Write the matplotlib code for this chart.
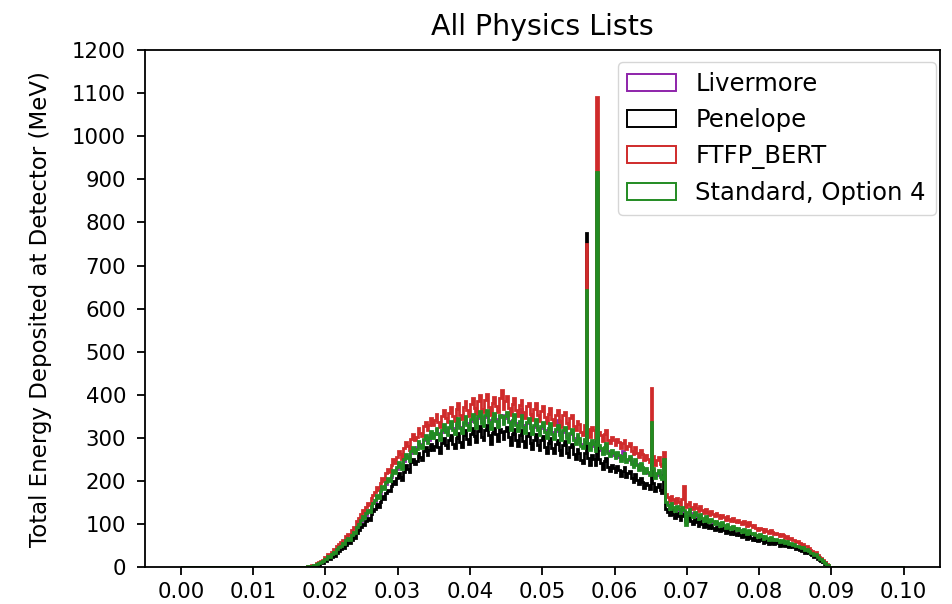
import numpy as np
import matplotlib
matplotlib.use("Agg")
import matplotlib.pyplot as plt

# histogram bins: 0.00025 wide, values listed from 0.017 to 0.090 (zero elsewhere)
bin_width = 0.00025
first_edge = 0.017

livermore = [
    0, 1, 1, 2, 3, 4, 5, 6, 9, 11,
    15, 18, 20, 24, 26, 29, 34, 36, 40, 46,
    52, 54, 57, 60, 66, 67, 72, 80, 82, 90,
    104, 108, 114, 118, 122, 130, 132, 138, 148, 152,
    162, 166, 172, 184, 186, 194, 202, 204, 210, 220,
    222, 228, 240, 240, 232, 246, 258, 256, 250, 264,
    274, 270, 278, 288, 286, 280, 294, 302, 292, 296,
    310, 304, 308, 320, 312, 300, 314, 326, 318, 308,
    322, 336, 322, 312, 330, 342, 326, 316, 334, 346,
    334, 322, 340, 352, 340, 326, 346, 358, 338, 330,
    348, 360, 342, 324, 342, 354, 344, 330, 350, 352,
    336, 346, 356, 340, 322, 338, 351, 334, 320, 336,
    366, 330, 316, 334, 342, 326, 312, 326, 340, 322,
    310, 324, 334, 318, 304, 318, 330, 314, 302, 316,
    342, 310, 298, 314, 322, 304, 294, 308, 316, 300,
    290, 304, 296, 286, 280, 294, 630, 284, 276, 290,
    282, 274, 900, 280, 272, 266, 276, 284, 270, 262,
    268, 260, 258, 264, 256, 250, 270, 262, 248, 248,
    254, 244, 236, 246, 240, 230, 238, 228, 222, 226,
    218, 218, 320, 226, 212, 214, 222, 214, 208, 240,
    148, 146, 140, 144, 136, 134, 138, 130, 130, 136,
    128, 104, 124, 130, 126, 120, 124, 116, 116, 120,
    110, 112, 114, 106, 108, 108, 102, 104, 104, 98,
    100, 100, 94, 96, 96, 90, 92, 92, 86, 88,
    88, 84, 86, 84, 80, 82, 82, 76, 78, 76,
    72, 74, 72, 68, 70, 68, 64, 66, 66, 62,
    64, 62, 60, 60, 58, 56, 58, 56, 52, 54,
    54, 50, 50, 46, 48, 42, 44, 42, 38, 40,
    32, 34, 26, 28, 26, 18, 20, 12, 11, 5,
    3, 1,
]

penelope = [
    0, 0, 1, 1, 2, 3, 3, 5, 6, 9,
    10, 15, 14, 20, 18, 24, 28, 27, 34, 38,
    41, 46, 44, 52, 58, 55, 64, 70, 68, 80,
    86, 94, 100, 98, 108, 114, 110, 124, 130, 136,
    146, 140, 152, 164, 158, 172, 180, 176, 188, 200,
    194, 206, 218, 210, 202, 222, 236, 228, 220, 244,
    252, 240, 246, 264, 256, 248, 270, 278, 260, 272,
    286, 272, 282, 294, 278, 266, 288, 300, 284, 276,
    294, 306, 286, 276, 300, 312, 290, 280, 306, 318,
    298, 286, 310, 322, 304, 290, 316, 328, 302, 294,
    318, 330, 306, 286, 312, 324, 308, 292, 320, 314,
    298, 316, 326, 302, 284, 308, 320, 296, 282, 306,
    318, 292, 278, 304, 312, 288, 274, 296, 310, 284,
    272, 294, 304, 280, 266, 288, 300, 276, 264, 286,
    296, 272, 260, 284, 292, 266, 256, 278, 286, 262,
    252, 274, 266, 248, 242, 264, 775, 254, 238, 260,
    252, 236, 880, 250, 242, 228, 246, 254, 232, 224,
    238, 230, 220, 234, 226, 212, 224, 232, 210, 218,
    224, 206, 198, 216, 202, 192, 208, 198, 184, 196,
    190, 182, 300, 196, 176, 186, 194, 178, 172, 215,
    136, 128, 120, 132, 124, 114, 126, 118, 110, 124,
    118, 108, 112, 118, 106, 100, 112, 104, 96, 108,
    100, 94, 104, 96, 90, 98, 92, 86, 94, 88,
    84, 90, 86, 80, 88, 82, 76, 84, 78, 74,
    80, 74, 70, 76, 72, 66, 74, 68, 64, 70,
    64, 60, 66, 62, 56, 62, 58, 54, 60, 56,
    54, 58, 56, 50, 54, 52, 48, 52, 46, 48,
    46, 48, 42, 44, 40, 38, 40, 34, 36, 32,
    30, 28, 24, 26, 20, 17, 15, 11, 8, 5,
    3, 1,
]

ftfp_bert = [
    0, 1, 3, 2, 4, 6, 6, 9, 11, 15,
    17, 24, 22, 30, 29, 36, 41, 39, 50, 54,
    58, 64, 62, 72, 78, 74, 86, 94, 90, 106,
    114, 124, 132, 128, 140, 148, 144, 160, 168, 174,
    186, 178, 196, 208, 200, 218, 228, 222, 236, 250,
    242, 256, 270, 262, 252, 276, 290, 282, 272, 298,
    308, 294, 302, 322, 312, 304, 328, 336, 318, 330,
    346, 330, 342, 356, 338, 326, 350, 364, 346, 336,
    358, 372, 350, 340, 366, 380, 354, 344, 372, 386,
    364, 350, 378, 392, 370, 356, 386, 400, 368, 360,
    388, 402, 372, 352, 382, 396, 374, 360, 392, 412,
    366, 386, 398, 370, 352, 378, 392, 364, 350, 376,
    388, 360, 346, 374, 382, 356, 342, 366, 380, 352,
    340, 362, 374, 348, 334, 356, 370, 344, 330, 354,
    364, 340, 326, 352, 360, 334, 322, 346, 354, 328,
    318, 340, 332, 314, 306, 330, 751, 320, 302, 326,
    318, 300, 1091, 314, 306, 292, 310, 318, 296, 288,
    302, 294, 284, 298, 290, 276, 288, 296, 274, 282,
    288, 270, 262, 280, 266, 256, 272, 262, 248, 260,
    252, 244, 415, 258, 238, 248, 256, 240, 234, 267,
    170, 162, 154, 166, 158, 148, 160, 152, 144, 158,
    188, 140, 146, 152, 140, 134, 146, 138, 130, 142,
    132, 126, 136, 128, 122, 130, 124, 118, 126, 120,
    114, 122, 116, 110, 118, 112, 106, 114, 108, 104,
    110, 104, 100, 106, 102, 96, 104, 98, 94, 98,
    90, 86, 92, 88, 82, 88, 84, 80, 86, 82,
    76, 80, 78, 72, 76, 74, 68, 72, 66, 68,
    62, 64, 58, 60, 56, 52, 54, 48, 50, 44,
    40, 38, 33, 35, 28, 24, 21, 16, 12, 7,
    5, 1,
]

standard_op4 = [
    0, 1, 2, 1, 3, 5, 4, 7, 9, 12,
    14, 20, 18, 26, 24, 31, 35, 33, 42, 47,
    50, 56, 53, 62, 68, 64, 75, 82, 79, 94,
    100, 110, 118, 114, 126, 132, 128, 142, 150, 156,
    168, 160, 176, 188, 182, 198, 206, 200, 214, 226,
    218, 232, 244, 236, 228, 250, 262, 254, 246, 270,
    280, 266, 274, 292, 284, 276, 298, 306, 288, 300,
    316, 300, 312, 324, 308, 296, 318, 332, 314, 306,
    326, 340, 318, 308, 334, 346, 322, 312, 338, 350,
    330, 318, 344, 356, 336, 322, 350, 362, 334, 328,
    352, 364, 338, 320, 346, 358, 340, 326, 354, 348,
    332, 350, 360, 336, 318, 342, 355, 330, 316, 340,
    352, 326, 312, 338, 346, 322, 308, 330, 344, 318,
    306, 328, 338, 314, 300, 322, 334, 310, 298, 320,
    330, 306, 294, 318, 326, 300, 290, 312, 320, 296,
    286, 308, 300, 282, 276, 298, 643, 288, 272, 294,
    286, 270, 917, 284, 276, 262, 280, 288, 266, 258,
    272, 264, 254, 268, 260, 246, 258, 266, 244, 252,
    258, 240, 232, 250, 236, 226, 242, 232, 218, 230,
    222, 214, 337, 230, 208, 218, 226, 210, 204, 250,
    152, 144, 136, 148, 140, 130, 142, 134, 126, 140,
    132, 98, 128, 134, 122, 116, 128, 120, 112, 124,
    114, 108, 118, 110, 104, 112, 106, 100, 108, 102,
    96, 104, 98, 92, 100, 94, 88, 96, 90, 86,
    92, 86, 82, 88, 84, 78, 86, 80, 76, 80,
    74, 70, 76, 72, 66, 72, 68, 64, 70, 66,
    62, 66, 64, 58, 62, 60, 56, 60, 54, 56,
    52, 54, 48, 50, 46, 44, 46, 40, 42, 38,
    34, 32, 28, 30, 24, 20, 18, 14, 10, 6,
    4, 1,
]

series = [livermore, penelope, ftfp_bert, standard_op4]
labels = ["Livermore", "Penelope", "FTFP_BERT", "Standard, Option 4"]
colors = ["#8e24aa", "black", "#cf2b2b", "forestgreen"]

plt.rcParams["font.size"] = 15.3
plt.rcParams["axes.linewidth"] = 1.3
plt.rcParams["xtick.major.size"] = 6
plt.rcParams["ytick.major.size"] = 6
plt.rcParams["xtick.major.width"] = 1.3
plt.rcParams["ytick.major.width"] = 1.3
plt.rcParams["xtick.major.pad"] = 4.5
plt.rcParams["ytick.major.pad"] = 7.5

fig = plt.figure(figsize=(9.53, 6.04), dpi=100)
ax = fig.add_axes([0.152, 0.061, 0.834, 0.856])

edges = np.linspace(0.0, 0.1, 401)
for vals, lab, col in zip(series, labels, colors):
    centers = first_edge + bin_width * (np.arange(len(vals)) + 0.5)
    ax.hist(centers, bins=edges, weights=vals, histtype="step",
            color=col, linewidth=2.0, label=lab)

ax.set_ylim(0, 1200)
ax.set_yticks(np.arange(0, 1201, 100))
ax.set_xticks(np.arange(0, 0.1001, 0.01))
ax.set_xticklabels([f"{v:.2f}" for v in np.arange(0, 0.1001, 0.01)])
ax.set_ylabel("Total Energy Deposited at Detector (MeV)", fontsize=16.5)
ax.yaxis.set_label_coords(-0.117, 0.5)
ax.set_title("All Physics Lists", fontsize=20.5, pad=11)
leg = ax.legend(loc="upper right", fontsize=17.5, borderaxespad=0,
                bbox_to_anchor=(0.995, 0.977))
for h in leg.legend_handles:
    h.set_linewidth(1.4)

fig.savefig("out.png", dpi=100)
